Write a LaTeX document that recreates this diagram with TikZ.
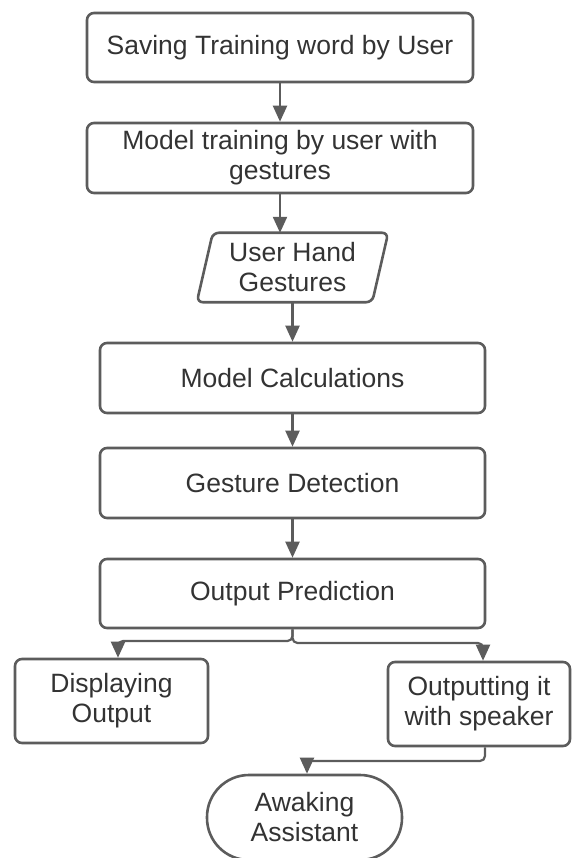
\documentclass[tikz,border=0pt]{standalone}
\usepackage{fontspec}
\setmainfont{Liberation Sans}
\usetikzlibrary{arrows.meta,calc}
\definecolor{linegray}{HTML}{5C5C5C}
\definecolor{txtgray}{HTML}{333333}
\begin{document}
\begin{tikzpicture}[x=1pt,y=-1pt,
  every node/.style={font=\fontsize{26.5}{30}\selectfont, text=txtgray, align=center, inner sep=0pt},
  procbox/.style={draw=linegray, line width=2.6pt, rounded corners=7pt},
  termbox/.style={draw=linegray, line width=2.6pt, rounded corners=42pt},
  conn/.style={draw=linegray, line width=2.2pt, -{Triangle[width=14pt,length=16pt]}},
]
\useasboundingbox (0,0) rectangle (571,858);
\node[procbox, minimum width=386pt, minimum height=69pt] (b1) at (280,47.5) {Saving Training word by User};
\node[procbox, minimum width=386pt, minimum height=70pt] (b2) at (280,158) {Model training by user with\\gestures};
\node[minimum width=175pt, minimum height=69pt] (ug) at (292.5,267.5) {User Hand\\Gestures};
\draw[draw=linegray, line width=2.6pt, rounded corners=6pt]
  ([xshift=8pt]ug.north west) -- ([xshift=8pt]ug.north east) -- ([xshift=-8pt]ug.south east) -- ([xshift=-8pt]ug.south west) -- cycle;
\node[procbox, minimum width=385pt, minimum height=70pt] (mc) at (292.5,378) {Model Calculations};
\node[procbox, minimum width=385pt, minimum height=70pt] (gd) at (292.5,483) {Gesture Detection};
\node[procbox, minimum width=385pt, minimum height=69pt] (op) at (292.5,593.5) {Output Prediction};
\node[procbox, minimum width=193pt, minimum height=84pt] (disp) at (111.5,701) {Displaying\\Output};
\node[procbox, minimum width=182pt, minimum height=84pt] (out) at (479,704) {Outputting it\\with speaker};
\node[termbox, minimum width=195pt, minimum height=85pt] (aw) at (304.5,817.5) {Awaking\\Assistant};

\coordinate (dl) at (118,641);
\coordinate (dr) at (483,643);
\coordinate (ar) at (485,761);
\coordinate (al) at (307,761);

\draw[conn] (b1.south) -- (b2.north);
\draw[conn] (b2.south) -- (b2.south |- ug.north);
\draw[conn] (ug.south) -- (mc.north);
\draw[conn] (mc.south) -- (gd.north);
\draw[conn] (gd.south) -- (op.north);
\draw[conn, rounded corners=5pt] (op.south) |- (dl) -- (dl |- disp.north);
\draw[conn, rounded corners=5pt] (op.south) |- (dr) -- (dr |- out.north);
\draw[conn, rounded corners=5pt] (ar |- out.south) -- (ar) -- (al) -- (al |- aw.north);
\end{tikzpicture}
\end{document}
